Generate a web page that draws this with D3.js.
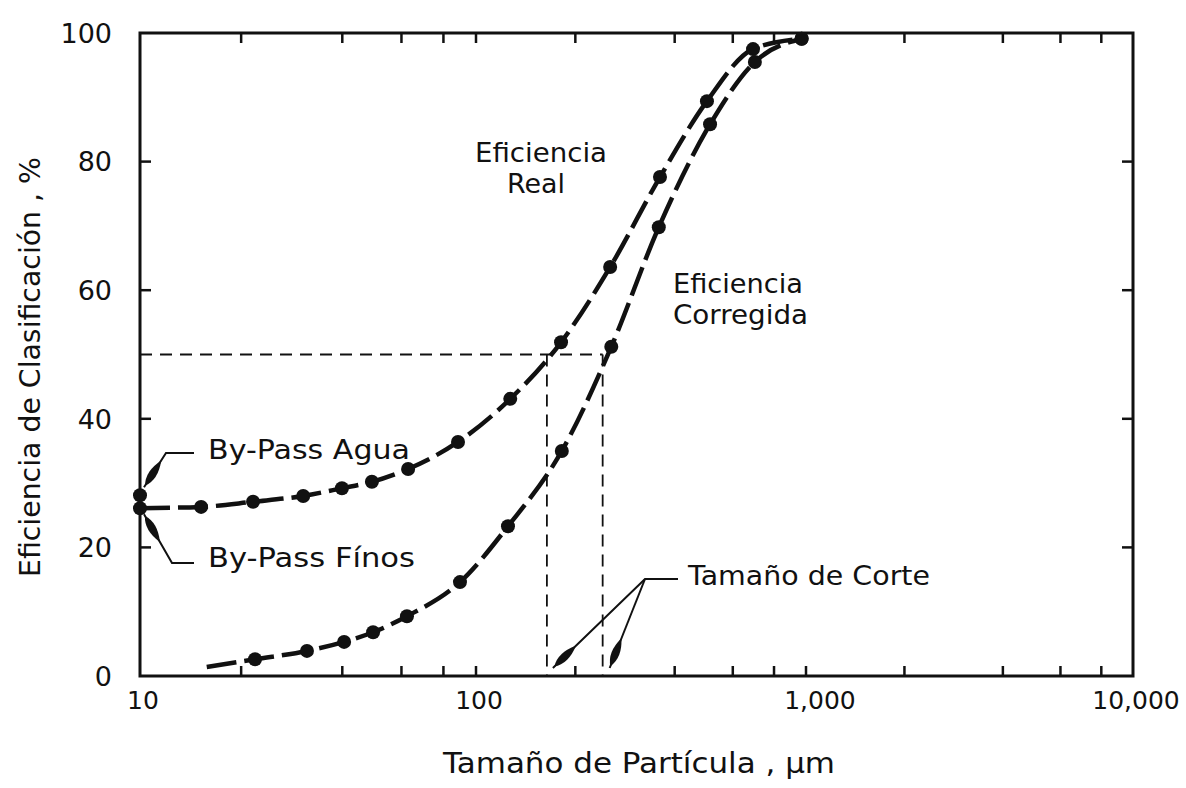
<!DOCTYPE html>
<html>
<head>
<meta charset="utf-8">
<script src="https://cdn.jsdelivr.net/npm/d3@7"></script>
<style>
  body { margin: 0; background: #fff; }
  svg text { font-family: "DejaVu Sans", sans-serif; fill: #111; }
</style>
</head>
<body>
<div class="chart"></div>
<script>
// values
var realSize = [10, 15.2, 21.7, 30.6, 39.9, 49.0, 62.8, 88.4, 127, 181, 255, 361, 501, 691, 970];
var realEff  = [26.1, 26.3, 27.1, 28.0, 29.2, 30.2, 32.2, 36.4, 43.1, 51.9, 63.6, 77.6, 89.4, 97.5, 99.1];
var corrSize = [15.8, 22.0, 31.4, 40.5, 49.4, 62.3, 89.6, 125, 182, 257, 358, 512, 700, 970];
var corrEff  = [1.4, 2.6, 3.9, 5.3, 6.8, 9.3, 14.6, 23.3, 35.0, 51.2, 69.8, 85.8, 95.5, 99.1];
var bypassAgua = [10, 28.1];
var cutSizes = [164, 242];
var cutEff = 50;
var xTickValues = [10, 100, 1000, 10000];
var xTickLabels = ["10", "100", "1,000", "10,000"];
var yTickValues = [0, 20, 40, 60, 80, 100];

var width = 1186, height = 788;

var svg = d3.select(".chart").append("svg")
    .attr("width", width)
    .attr("height", height);

/************* scales (hand drawn log paper, decades not quite equal) ***************/
var x = d3.scaleLog()
    .domain([10, 100, 1000, 10000])
    .range([140, 476, 806, 1133]);
var y = d3.scaleLinear()
    .domain([0, 100])
    .range([676, 33]);

var x0 = x(10), x1 = x(10000), y0 = y(0), y1 = y(100);

// minor ticks 2,4,6,8 of every decade + the decades
var minorTicks = [];
[10, 100, 1000].forEach(function(d){
    [1, 2, 4, 6, 8].forEach(function(m){ if (d * m > 10) minorTicks.push(d * m); });
});

var frame = svg.append("g").attr("class", "frame");
frame.append("rect")
    .attr("x", x0).attr("y", y1)
    .attr("width", x1 - x0).attr("height", y0 - y1)
    .attr("fill", "none").attr("stroke", "#111").attr("stroke-width", 3);

frame.selectAll("line.xb").data(minorTicks).enter().append("line")
    .attr("class", "xb")
    .attr("x1", d => x(d)).attr("x2", d => x(d))
    .attr("y1", y0).attr("y2", y0 - 10)
    .attr("stroke", "#111").attr("stroke-width", 2.5);
frame.selectAll("line.xt").data(minorTicks).enter().append("line")
    .attr("class", "xt")
    .attr("x1", d => x(d)).attr("x2", d => x(d))
    .attr("y1", y1).attr("y2", y1 + 10)
    .attr("stroke", "#111").attr("stroke-width", 2.5);

var innerY = yTickValues.filter(d => d > 0 && d < 100);
frame.selectAll("line.yl").data(innerY).enter().append("line")
    .attr("class", "yl")
    .attr("x1", x0).attr("x2", x0 + 11)
    .attr("y1", d => y(d)).attr("y2", d => y(d))
    .attr("stroke", "#111").attr("stroke-width", 2.5);
frame.selectAll("line.yr").data(innerY).enter().append("line")
    .attr("class", "yr")
    .attr("x1", x1).attr("x2", x1 - 11)
    .attr("y1", d => y(d)).attr("y2", d => y(d))
    .attr("stroke", "#111").attr("stroke-width", 2.5);

/************* tick labels ***************/
svg.append("g").selectAll("text").data(yTickValues).enter().append("text")
    .attr("x", 112)
    .attr("y", d => y(d))
    .attr("dy", "0.36em")
    .attr("text-anchor", "end")
    .style("font-size", "27px")
    .text(d => d);

svg.append("g").selectAll("text").data(xTickValues).enter().append("text")
    .attr("x", (d, i) => x(d) + (i == 2 ? 14 : 3))
    .attr("y", 709)
    .attr("text-anchor", "middle")
    .style("font-size", "25px")
    .text((d, i) => xTickLabels[i]);

/************* axis titles ***************/
svg.append("text")
    .attr("x", 443).attr("y", 773)
    .attr("textLength", 392)
    .attr("lengthAdjust", "spacingAndGlyphs")
    .style("font-size", "29px")
    .text("Tamaño de Partícula , µm");

svg.append("text")
    .attr("transform", "translate(40,577) rotate(-90)")
    .attr("textLength", 420)
    .attr("lengthAdjust", "spacingAndGlyphs")
    .style("font-size", "28px")
    .text("Eficiencia de Clasificación , %");

/************* cut size guides ***************/
var guides = svg.append("g").attr("class", "guides")
    .attr("stroke", "#111").attr("stroke-width", 1.8)
    .attr("stroke-dasharray", "12,8").attr("fill", "none");
guides.append("line")
    .attr("x1", x0).attr("x2", x(cutSizes[1]))
    .attr("y1", y(cutEff)).attr("y2", y(cutEff));
guides.selectAll("line.v").data(cutSizes).enter().append("line")
    .attr("class", "v")
    .attr("x1", d => x(d)).attr("x2", d => x(d))
    .attr("y1", y(cutEff)).attr("y2", y0);

/************* curves ***************/
var line = d3.line()
    .x(d => x(d[0]))
    .y(d => y(d[1]))
    .curve(d3.curveMonotoneX);

var realData = realSize.map((s, i) => [s, realEff[i]]);
var corrData = corrSize.map((s, i) => [s, corrEff[i]]);

svg.append("path").datum(realData)
    .attr("d", line)
    .attr("fill", "none").attr("stroke", "#111")
    .attr("stroke-width", 4.5).attr("stroke-dasharray", "30,8");
svg.append("path").datum(corrData)
    .attr("d", line)
    .attr("fill", "none").attr("stroke", "#111")
    .attr("stroke-width", 4.5).attr("stroke-dasharray", "30,8");

var dots = realData.concat(corrData.slice(1)).concat([bypassAgua]);
svg.append("g").selectAll("circle").data(dots).enter().append("circle")
    .attr("cx", d => x(d[0]))
    .attr("cy", d => y(d[1]))
    .attr("r", 7)
    .attr("fill", "#111");

/************* annotations ***************/
// leader with feathered arrow near the tip
function leader(points) {
    var g = svg.append("g");
    g.append("path")
        .attr("d", d3.line()(points))
        .attr("fill", "none").attr("stroke", "#111").attr("stroke-width", 2);
    var tip = points[points.length - 1], prev = points[points.length - 2];
    var dx = prev[0] - tip[0], dy = prev[1] - tip[1];
    var len = Math.sqrt(dx * dx + dy * dy);
    var ux = dx / len, uy = dy / len, nx = -uy, ny = ux;
    var a = [tip[0] + ux * 2, tip[1] + uy * 2];
    var m = [tip[0] + ux * 14, tip[1] + uy * 14];
    var b = [tip[0] + ux * 32, tip[1] + uy * 32];
    g.append("path")
        .attr("d", "M" + a + "Q" + [m[0] + nx * 8, m[1] + ny * 8] + " " + b +
                   "Q" + [m[0] - nx * 8, m[1] - ny * 8] + " " + a + "Z")
        .attr("fill", "#111");
}

var pAgua = [x(bypassAgua[0]), y(bypassAgua[1])];
var pFinos = [x(realSize[0]), y(realEff[0])];
leader([[194, 453], [166, 453], [pAgua[0] + 4, pAgua[1] - 8]]);
leader([[194, 563], [172, 563], [pFinos[0] + 4, pFinos[1] + 6]]);
leader([[678, 579], [645, 579], [x(cutSizes[0]) + 6, y0 - 8]]);
leader([[645, 579], [x(cutSizes[1]) + 7, y0 - 8]]);

var labels = [
    { t: "By-Pass Agua", x: 208, y: 459, w: 202 },
    { t: "By-Pass Fínos", x: 208, y: 567, w: 207 },
    { t: "Eficiencia", x: 475, y: 162, w: 132 },
    { t: "Real", x: 507, y: 193, w: 58 },
    { t: "Eficiencia", x: 673, y: 293, w: 130 },
    { t: "Corregida", x: 673, y: 324, w: 135 },
    { t: "Tamaño de Corte", x: 688, y: 585, w: 242 }
];
svg.append("g").selectAll("text").data(labels).enter().append("text")
    .attr("x", d => d.x).attr("y", d => d.y)
    .attr("textLength", d => d.w)
    .attr("lengthAdjust", "spacingAndGlyphs")
    .style("font-size", "27px")
    .text(d => d.t);
</script>
</body>
</html>
